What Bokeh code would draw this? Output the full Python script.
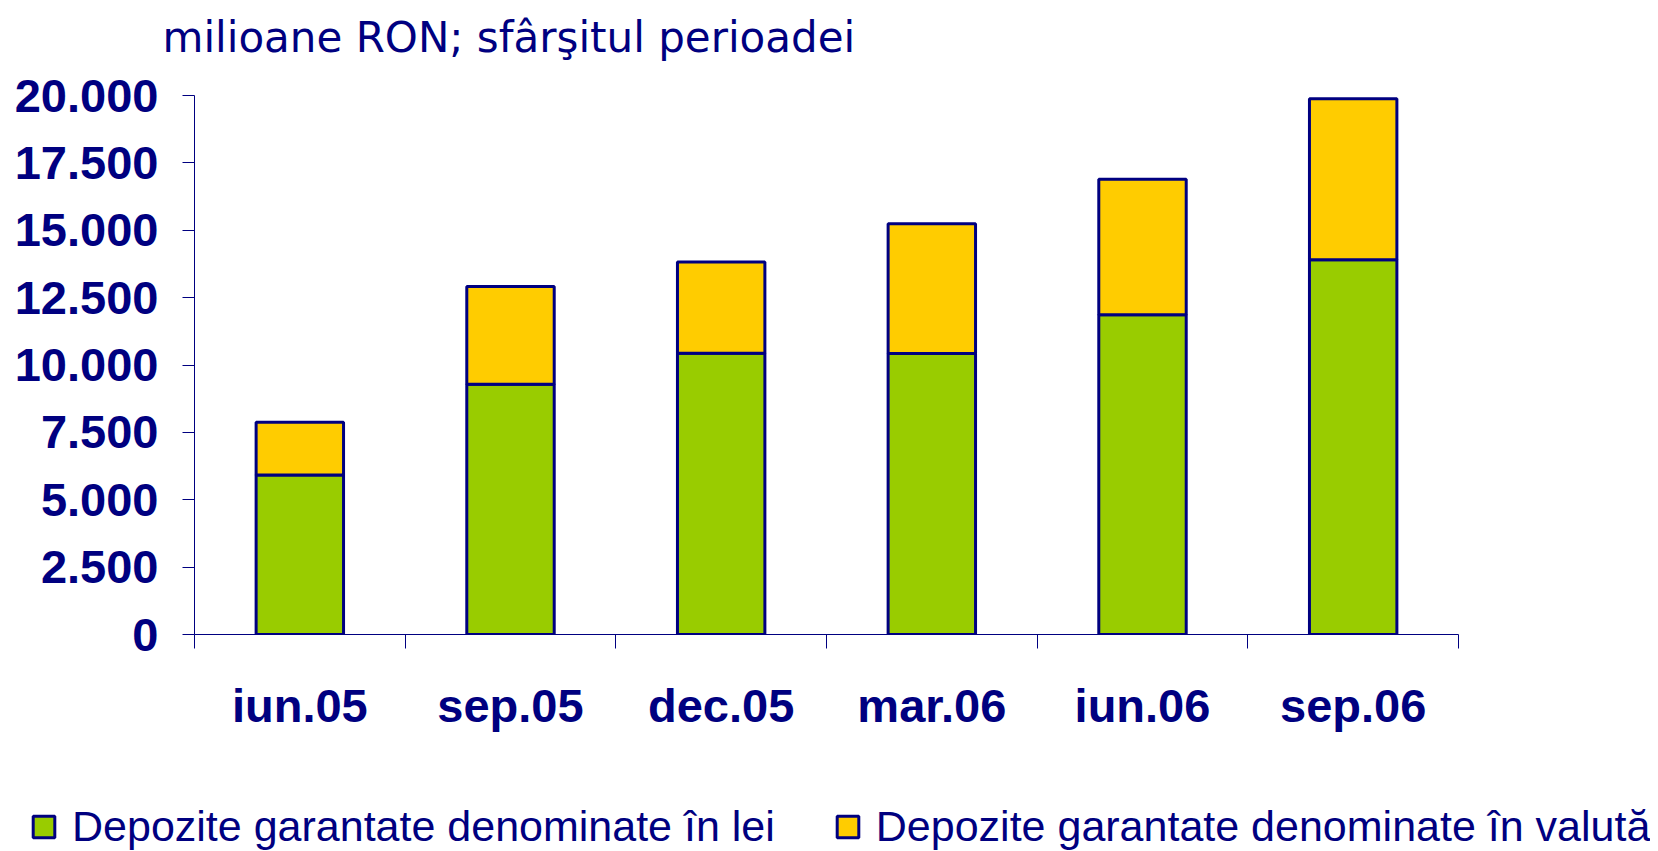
from bokeh.plotting import figure
from bokeh.models import (ColumnDataSource, Range1d, FixedTicker, Legend, LegendItem, Label)
from bokeh.layouts import column
from bokeh.embed import file_html
from bokeh.resources import INLINE

# ---- data ----
categories = ["iun.05", "sep.05", "dec.05", "mar.06", "iun.06", "sep.06"]
lei = [5920, 9290, 10440, 10430, 11860, 13910]
valuta = [1960, 3620, 3380, 4810, 5030, 5970]
series_labels = ["Depozite garantate denominate în lei",
                 "Depozite garantate denominate în valută"]
y_ticks = [0, 2500, 5000, 7500, 10000, 12500, 15000, 17500, 20000]
y_tick_labels = ["0", "2.500", "5.000", "7.500", "10.000", "12.500",
                 "15.000", "17.500", "20.000"]
title_text = "milioane RON; sfârşitul perioadei"

NAVY = "#000080"
GREEN = "#99CC00"
YELLOW = "#FFCC00"

W = 1650
TOP_H, MAIN_H, LEG_H = 70, 690, 91

x_pos = [i + 0.5 for i in range(len(categories))]
source = ColumnDataSource(dict(x=x_pos, lei=lei, valuta=valuta))

# ---- title strip ----
pt = figure(width=W, height=TOP_H, output_backend="svg", toolbar_location=None,
            x_axis_type=None, y_axis_type=None, min_border=0, frame_align=False,
            x_range=Range1d(0, W), y_range=Range1d(0, TOP_H))
pt.outline_line_color = None
pt.grid.visible = False
pt.add_layout(Label(x=162, y=TOP_H - 51.7 + 15, x_units="screen", y_units="screen",
                    text=title_text, text_font="DejaVu Sans", text_font_size="42px",
                    text_color=NAVY, text_baseline="alphabetic", text_align="left"))

# ---- main chart ----
p = figure(width=W, height=MAIN_H, output_backend="svg", toolbar_location=None,
           x_range=Range1d(0, len(categories)), y_range=Range1d(0, 20000),
           min_border_left=194, min_border_right=W - 1458,
           min_border_top=95 - TOP_H, min_border_bottom=TOP_H + MAIN_H - 634,
           frame_align=False)
p.outline_line_color = None
p.grid.visible = False

renderers = p.vbar_stack(["lei", "valuta"], x="x", width=0.415, source=source,
                         fill_color=[GREEN, YELLOW], line_color=NAVY, line_width=3)

xa = p.xaxis[0]
xa.ticker = FixedTicker(ticks=x_pos, minor_ticks=list(range(len(categories) + 1)))
xa.major_label_overrides = {x: c for x, c in zip(x_pos, categories)}
xa.major_tick_out = 0
xa.major_tick_in = 0
xa.minor_tick_out = 14
xa.minor_tick_in = 0
xa.minor_tick_line_color = NAVY
xa.axis_line_color = NAVY
xa.major_label_text_font = "Liberation Sans"
xa.major_label_text_font_style = "bold"
xa.major_label_text_font_size = "47px"
xa.major_label_text_color = NAVY
xa.major_label_standoff = 30

ya = p.yaxis[0]
ya.ticker = FixedTicker(ticks=y_ticks, minor_ticks=[])
ya.major_label_overrides = {t: l for t, l in zip(y_ticks, y_tick_labels)}
ya.major_tick_out = 12
ya.major_tick_in = 0
ya.major_tick_line_color = NAVY
ya.minor_tick_line_color = None
ya.axis_line_color = NAVY
ya.major_label_text_font = "Liberation Sans"
ya.major_label_text_font_style = "bold"
ya.major_label_text_font_size = "47px"
ya.major_label_text_color = NAVY
ya.major_label_standoff = 24

# ---- legend strip (its bars share the data but are hidden; legend keeps their style) ----
pl = figure(width=W, height=LEG_H, output_backend="svg", toolbar_location=None,
            x_axis_type=None, y_axis_type=None, min_border=0, frame_align=False,
            x_range=Range1d(0, len(categories)), y_range=Range1d(0, 20000))
pl.outline_line_color = None
pl.grid.visible = False
leg_r = pl.vbar_stack(["lei", "valuta"], x="x", width=0.415, source=source,
                      fill_color=[GREEN, YELLOW], line_color=NAVY, line_width=3)
for r in leg_r:
    r.visible = False
legend = Legend(items=[LegendItem(label=series_labels[0], renderers=[leg_r[0]]),
                       LegendItem(label=series_labels[1], renderers=[leg_r[1]])],
                location=(30, 0), orientation="horizontal", click_policy="none",
                glyph_width=27, glyph_height=27, label_standoff=15, spacing=59,
                padding=0, margin=0, border_line_color=None,
                background_fill_alpha=0,
                label_text_font="Liberation Sans", label_text_font_size="43px",
                label_text_color=NAVY)
pl.add_layout(legend)

layout = column(pt, p, pl, spacing=0)
open("out.html", "w").write(file_html(layout, INLINE))
